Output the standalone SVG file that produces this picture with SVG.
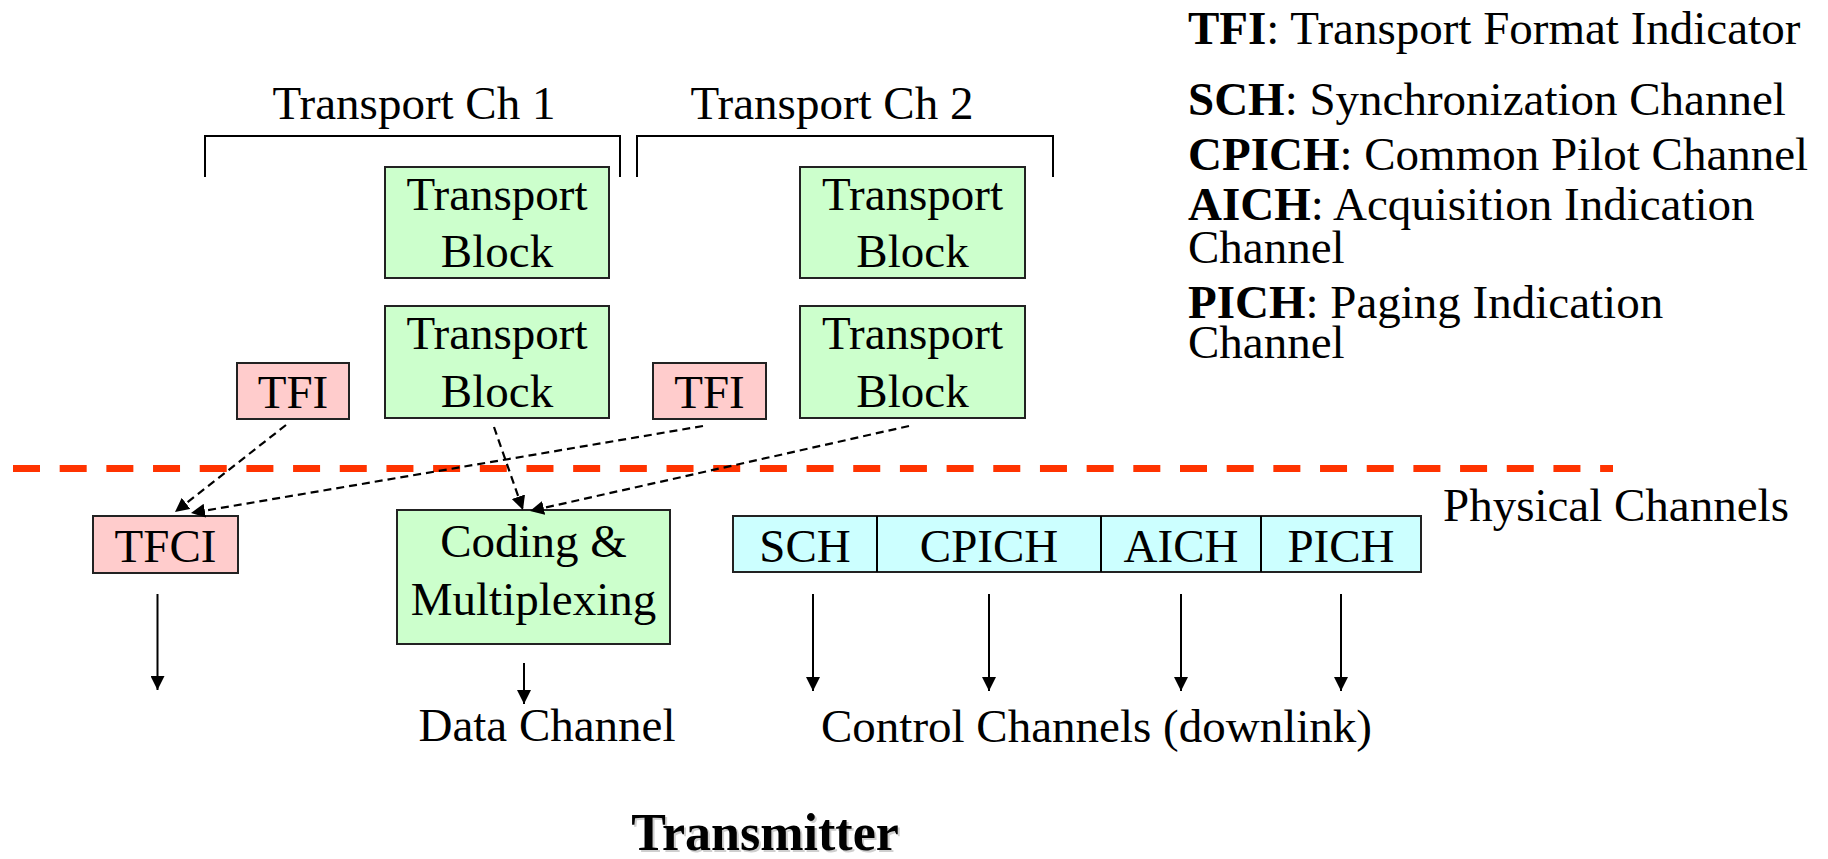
<svg xmlns="http://www.w3.org/2000/svg" width="1828" height="859" viewBox="0 0 1828 859">
<style>
text{font-family:"Liberation Serif","Times New Roman",serif;font-size:47px;fill:#000}
.c{text-anchor:middle}
.b{font-weight:bold}
.green{fill:#CCFFCC;stroke:#222;stroke-width:2}
.pink{fill:#FFCCCC;stroke:#222;stroke-width:2}
.cyan{fill:#CCFFFF;stroke:#222;stroke-width:2}
.solid{stroke:#000;stroke-width:2;fill:none}
.dash{stroke:#000;stroke-width:2.2;fill:none;stroke-dasharray:8 5}
.bracket{stroke:#000;stroke-width:2;fill:none}
</style>
<defs>
<marker id="ah" markerUnits="userSpaceOnUse" markerWidth="14" markerHeight="14" refX="14" refY="7" orient="auto">
<path d="M0,0 L14,7 L0,14 Z" fill="#000"/>
</marker>
</defs>
<rect width="1828" height="859" fill="#fff"/>

<g id="legend">
<text x="1188" y="44"><tspan class="b">TFI</tspan>: Transport Format Indicator</text>
<text x="1188" y="115"><tspan class="b">SCH</tspan>: Synchronization Channel</text>
<text x="1188" y="170"><tspan class="b">CPICH</tspan>: Common Pilot Channel</text>
<text x="1188" y="220"><tspan class="b">AICH</tspan>: Acquisition Indication</text>
<text x="1188" y="263">Channel</text>
<text x="1188" y="318"><tspan class="b">PICH</tspan>: Paging Indication</text>
<text x="1188" y="358">Channel</text>
</g>

<g id="transport-ch1">
<text class="c" x="414" y="119">Transport Ch 1</text>
<path class="bracket" d="M205,177 V136 H620 V177"/>
</g>
<g id="transport-ch2">
<text class="c" x="832" y="119">Transport Ch 2</text>
<path class="bracket" d="M637,177 V136 H1053 V177"/>
</g>

<g id="tb1-top">
<rect class="green" x="385" y="167" width="224" height="111"/>
<text class="c" x="497" y="210">Transport</text>
<text class="c" x="497" y="267">Block</text>
</g>
<g id="tb1-bottom">
<rect class="green" x="385" y="306" width="224" height="112"/>
<text class="c" x="497" y="349">Transport</text>
<text class="c" x="497" y="407">Block</text>
</g>
<g id="tb2-top">
<rect class="green" x="800" y="167" width="225" height="111"/>
<text class="c" x="912.5" y="210">Transport</text>
<text class="c" x="912.5" y="267">Block</text>
</g>
<g id="tb2-bottom">
<rect class="green" x="800" y="306" width="225" height="112"/>
<text class="c" x="912.5" y="349">Transport</text>
<text class="c" x="912.5" y="407">Block</text>
</g>
<g id="tfi1">
<rect class="pink" x="237" y="363" width="112" height="56"/>
<text class="c" x="293" y="408">TFI</text>
</g>
<g id="tfi2">
<rect class="pink" x="653" y="363" width="113" height="56"/>
<text class="c" x="709.5" y="408">TFI</text>
</g>

<g id="boundary">
<line x1="13" y1="468.5" x2="1613" y2="468.5" stroke="#FF3300" stroke-width="7" stroke-dasharray="27 19.68"/>
<text x="1443" y="521">Physical Channels</text>
</g>

<g id="tfci">
<rect class="pink" x="93" y="516" width="145" height="57"/>
<text class="c" x="165.5" y="562">TFCI</text>
</g>
<g id="coding">
<rect class="green" x="397" y="510" width="273" height="134"/>
<text class="c" x="533.5" y="557">Coding &amp;</text>
<text class="c" x="533.5" y="615">Multiplexing</text>
</g>
<g id="physical-channels">
<rect class="cyan" x="733" y="516" width="688" height="56"/>
<line class="solid" x1="877" y1="516" x2="877" y2="572" stroke="#222"/>
<line class="solid" x1="1101" y1="516" x2="1101" y2="572" stroke="#222"/>
<line class="solid" x1="1261" y1="516" x2="1261" y2="572" stroke="#222"/>
<text class="c" x="805" y="562">SCH</text>
<text class="c" x="989" y="562">CPICH</text>
<text class="c" x="1181" y="562">AICH</text>
<text class="c" x="1341" y="562">PICH</text>
</g>

<g id="connectors">
<line class="dash" x1="286" y1="425" x2="175" y2="512" marker-end="url(#ah)"/>
<line class="dash" x1="703" y1="426" x2="191" y2="513" marker-end="url(#ah)"/>
<line class="dash" x1="494" y1="427" x2="523" y2="510" marker-end="url(#ah)"/>
<line class="dash" x1="909" y1="426" x2="530" y2="511" marker-end="url(#ah)"/>
<line class="solid" x1="157.5" y1="594" x2="157.5" y2="690" marker-end="url(#ah)"/>
<line class="solid" x1="524" y1="663" x2="524" y2="704" marker-end="url(#ah)"/>
<line class="solid" x1="813" y1="594" x2="813" y2="691" marker-end="url(#ah)"/>
<line class="solid" x1="989" y1="594" x2="989" y2="691" marker-end="url(#ah)"/>
<line class="solid" x1="1181" y1="594" x2="1181" y2="691" marker-end="url(#ah)"/>
<line class="solid" x1="1341" y1="594" x2="1341" y2="691" marker-end="url(#ah)"/>
</g>

<g id="labels">
<text class="c" x="547" y="741">Data Channel</text>
<text x="821" y="742">Control Channels (downlink)</text>
<text class="c b" x="767" y="852" style="font-size:52px;fill:#cfcfcf">Transmitter</text>
<text class="c b" x="765" y="850" style="font-size:52px">Transmitter</text>
</g>
</svg>
